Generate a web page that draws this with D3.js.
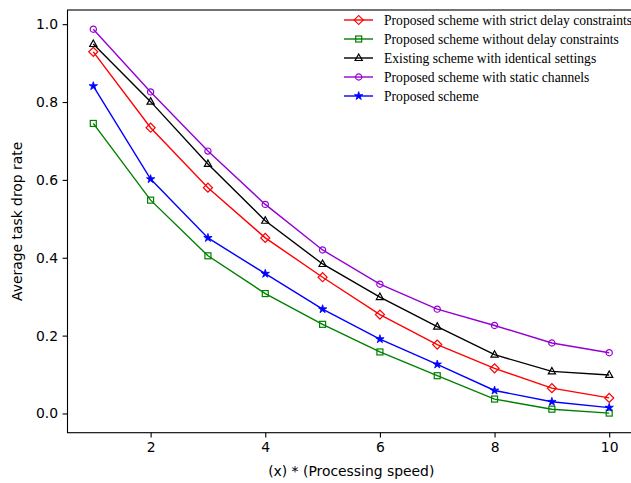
<!DOCTYPE html>
<html><head><meta charset="utf-8">
<script src="https://cdn.jsdelivr.net/npm/d3@7"></script>
<style>html,body{margin:0;padding:0;background:#fff;}svg{display:block;}</style>
</head><body>
<svg id="chart" width="631" height="483"></svg>
<script>
const xValues = [1,2,3,4,5,6,7,8,9,10];
const strictDelay   = [0.929,0.734,0.580,0.451,0.350,0.254,0.177,0.116,0.065,0.040];
const withoutDelay  = [0.745,0.548,0.405,0.308,0.229,0.158,0.097,0.037,0.011,0.001];
const existing      = [0.949,0.801,0.641,0.495,0.384,0.299,0.223,0.151,0.108,0.099];
const staticChan    = [0.987,0.826,0.674,0.537,0.420,0.332,0.268,0.226,0.181,0.156];
const proposed      = [0.841,0.602,0.451,0.359,0.268,0.191,0.126,0.059,0.030,0.015];
const seriesNames = ["Proposed scheme with strict delay constraints","Proposed scheme without delay constraints","Existing scheme with identical settings","Proposed scheme with static channels","Proposed scheme"];
const xTicks = [2,4,6,8,10];
const yTicks = [0.0,0.2,0.4,0.6,0.8,1.0];
const xLabel = "(x) * (Processing speed)";
const yLabel = "Average task drop rate";

const series = [
  {name:seriesNames[0], values:strictDelay,  color:"#ff0000", marker:"diamond"},
  {name:seriesNames[1], values:withoutDelay, color:"#008000", marker:"square"},
  {name:seriesNames[2], values:existing,     color:"#000000", marker:"triangle"},
  {name:seriesNames[3], values:staticChan,   color:"#9400d3", marker:"circle"},
  {name:seriesNames[4], values:proposed,     color:"#0000ff", marker:"star"}
];

const svg = d3.select("#chart");
const L = 67.5, T = 10, R = 635, B = 432.7;
const x = d3.scaleLinear().domain([0.55,10.45]).range([L,R]);
const y = d3.scaleLinear().domain([-0.0494,1.0364]).range([B,T]);

const xAxis = d3.axisBottom(x).tickValues(xTicks).tickFormat(d3.format("d")).tickSizeInner(4.9).tickSizeOuter(0).tickPadding(4.5);
const yAxis = d3.axisLeft(y).tickValues(yTicks).tickFormat(d3.format(".1f")).tickSizeInner(4.9).tickSizeOuter(0).tickPadding(4.5);

const gx = svg.append("g").attr("transform",`translate(0,${B})`).call(xAxis);
const gy = svg.append("g").attr("transform",`translate(${L},0)`).call(yAxis);
[gx,gy].forEach(g=>{
  g.select(".domain").remove();
  g.selectAll("line").attr("stroke","#000").attr("stroke-width",1.1);
  g.selectAll("text").attr("font-family","DejaVu Sans").attr("font-size","13.9px").attr("fill","#000");
});

svg.append("rect").attr("x",L).attr("y",T).attr("width",R-L).attr("height",B-T)
  .attr("fill","none").attr("stroke","#000").attr("stroke-width",1.1);

svg.append("text").attr("x",(L+R)/2).attr("y",476).attr("text-anchor","middle")
  .attr("font-family","DejaVu Sans").attr("font-size","13.9px").text(xLabel);
svg.append("text").attr("transform",`translate(22,${(T+B)/2}) rotate(-90)`).attr("text-anchor","middle")
  .attr("font-family","DejaVu Sans").attr("font-size","13.9px").text(yLabel);

const line = d3.line().x((d,i)=>x(xValues[i])).y(d=>y(d));
const plot = svg.append("g");
series.forEach(s=>{
  plot.append("path").attr("d",line(s.values)).attr("fill","none").attr("stroke",s.color).attr("stroke-width",1.4);
});
function addMarker(g, cx, cy, s){
  const m = g.append("g").attr("transform",`translate(${cx},${cy})`);
  if(s.marker==="diamond"){
    m.append("rect").attr("x",-3.2).attr("y",-3.2).attr("width",6.4).attr("height",6.4).attr("transform","rotate(45)")
      .attr("fill","none").attr("stroke",s.color).attr("stroke-width",1.2);
  } else if(s.marker==="square"){
    m.append("rect").attr("x",-3).attr("y",-3).attr("width",6).attr("height",6)
      .attr("fill","none").attr("stroke",s.color).attr("stroke-width",1.2);
  } else if(s.marker==="triangle"){
    m.append("path").attr("d","M0,-4L3.6,2.5L-3.6,2.5Z")
      .attr("fill","none").attr("stroke",s.color).attr("stroke-width",1.2);
  } else if(s.marker==="circle"){
    m.append("circle").attr("r",3.1)
      .attr("fill","none").attr("stroke",s.color).attr("stroke-width",1.2);
  } else if(s.marker==="star"){
    m.append("path").attr("d",d3.symbol(d3.symbolStar,22)()).attr("fill",s.color).attr("stroke",s.color).attr("stroke-width",0.8);
  }
}
series.forEach(s=>{
  s.values.forEach((v,i)=>addMarker(plot, x(xValues[i]), y(v), s));
});

const leg = svg.append("g");
series.forEach((s,i)=>{
  const ly = 20 + i*19;
  leg.append("line").attr("x1",344).attr("x2",373).attr("y1",ly).attr("y2",ly).attr("stroke",s.color).attr("stroke-width",1.4);
  addMarker(leg, 358.7, ly, s);
  leg.append("text").attr("x",384).attr("y",ly+4.5).attr("font-family","Liberation Serif").attr("font-size","13.6px").attr("fill","#000").text(s.name);
});
</script>
</body></html>
